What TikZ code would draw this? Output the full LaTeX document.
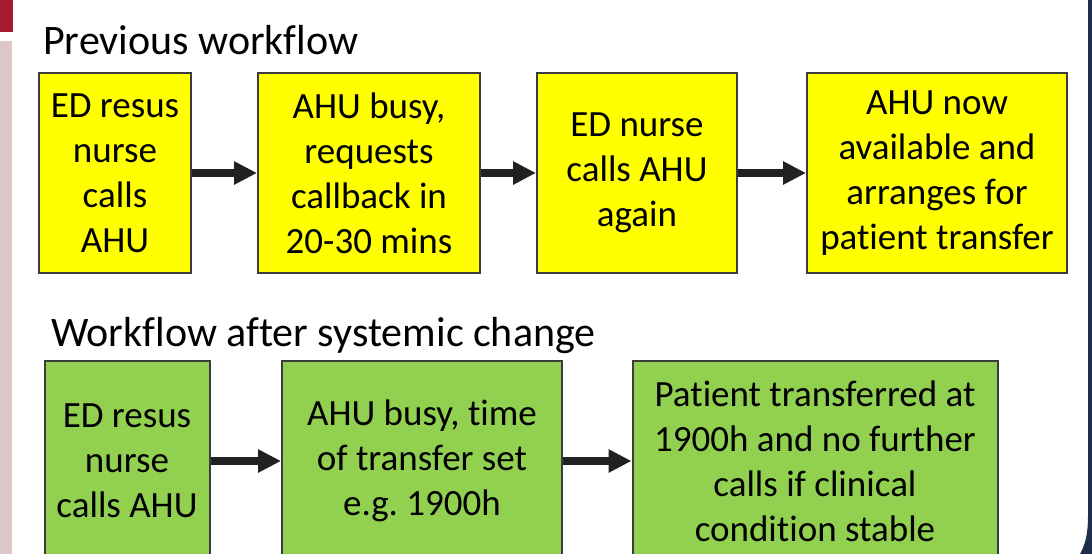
\documentclass[tikz,border=0pt]{standalone}
\usepackage{fontspec}
\setmainfont{Carlito}[Ligatures=CommonOff]
\frenchspacing
\usetikzlibrary{arrows.meta}
\definecolor{oldyellow}{RGB}{255,255,0}
\definecolor{newgreen}{RGB}{146,208,80}
\definecolor{edgegray}{RGB}{60,60,60}
\definecolor{slidered}{RGB}{166,25,46}
\definecolor{slidepink}{RGB}{221,199,203}
\definecolor{slidenavy}{RGB}{30,45,75}

\begin{document}
\begin{tikzpicture}[x=1pt, y=-1pt,
  oldbox/.style={draw=edgegray, line width=2pt, fill=oldyellow, minimum height=200pt, align=center, inner sep=0pt, font=\fontsize{37}{45}\selectfont},
  newbox/.style={oldbox, fill=newgreen},
  flow/.style={draw=black!87, line width=8pt, -{Triangle[length=23pt, width=22pt]}},
  heading/.style={anchor=base west, inner sep=0pt, font=\fontsize{42}{50}\selectfont}
]
  \useasboundingbox (0,0) rectangle (1092,554);
  \clip (0,0) rectangle (1092,554);

  % Slide edges
  \fill[slidered] (0,0) rectangle (13,32);
  \fill[slidepink] (0,41) rectangle (12,554);
  \fill[slidenavy] (1088,0) -- (1088,515) .. controls (1088,535) and (1085,545) .. (1080,554) -- (1092,554) -- (1092,0) -- cycle;

  % Previous workflow
  \node[heading] (oldtitle) at (43,54) {Previous workflow};
  \node[oldbox, minimum width=152pt] (old1) at (115,173) {ED resus\\nurse\\calls\\AHU};
  \node[oldbox, minimum width=222pt] (old2) at (369,173) {AHU busy,\\requests\\callback in\\20-30 mins};
  \node[oldbox, minimum width=200pt] (old3) at (637,173) {ED nurse\\calls AHU\\again};
  \node[oldbox, minimum width=260pt] (old4) at (937,173) {AHU now\\available and\\arranges for\\patient transfer};
  \draw[flow] (old1) -- (old2);
  \draw[flow] (old2) -- (old3);
  \draw[flow] (old3) -- (old4);

  % Workflow after systemic change
  \node[heading] (newtitle) at (51,346) {Workflow after systemic change};
  \node[newbox, minimum width=165pt] (new1) at (127,461) {ED resus\\nurse\\calls AHU};
  \node[newbox, minimum width=280pt] (new2) at (422,461) {AHU busy, time\\of transfer set\\e.g. 1900h};
  \node[newbox, minimum width=365pt] (new3) at (815,461) {Patient transferred at\\1900h and no further\\calls if clinical\\condition stable};
  \draw[flow] (new1) -- (new2);
  \draw[flow] (new2) -- (new3);
\end{tikzpicture}
\end{document}
